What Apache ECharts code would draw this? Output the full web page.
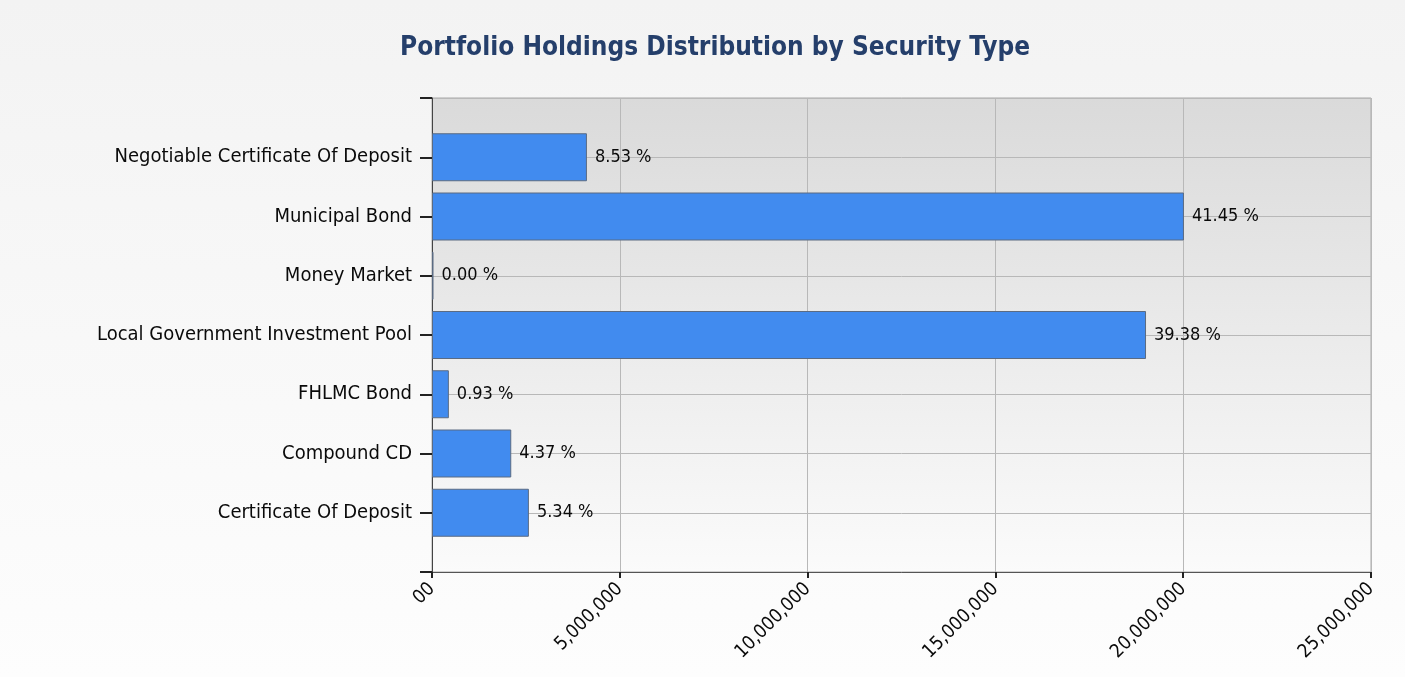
<!DOCTYPE html>
<html>
<head>
<meta charset="utf-8">
<script src="https://cdn.jsdelivr.net/npm/echarts@6/dist/echarts.min.js"></script>
<style>
html,body{margin:0;padding:0;background:#fff;}
#c{width:1405px;height:677px;}
</style>
</head>
<body>
<div id="c"></div>
<script>
// Data (bottom to top as drawn on the category axis)
const categories = ['Certificate Of Deposit','Compound CD','FHLMC Bond','Local Government Investment Pool','Money Market','Municipal Bond','Negotiable Certificate Of Deposit'];
const values = [2580000, 2110000, 449000, 19010000, 40000, 20020000, 4125000];
const percentLabels = ['5.34 %','4.37 %','0.93 %','39.38 %','0.00 %','41.45 %','8.53 %'];
const xTickValues = [0, 5000000, 10000000, 15000000, 20000000, 25000000];
const xTickLabels = ['00','5,000,000','10,000,000','15,000,000','20,000,000','25,000,000'];

// padded category axis: empty slot at each end, ticks on the points
const yCats = [''].concat(categories, ['']);
const barData = [null].concat(values.map((v,i)=>({value:v, pct:percentLabels[i]})), [null]);

const font = 'DejaVu Sans Condensed';
const chart = echarts.init(document.getElementById('c'));
chart.setOption({
  backgroundColor: new echarts.graphic.LinearGradient(0,0,0,1,[{offset:0,color:'#f3f3f3'},{offset:1,color:'#fdfdfd'}]),
  animation:false,
  title:{
    text:'Portfolio Holdings Distribution by Security Type',
    left:395, top:30,
    textStyle:{fontFamily:font, fontSize:26, fontWeight:'bold', color:'#253f6b'}
  },
  grid:{
    left:432, right:34, top:98, bottom:105,
    show:true,
    borderColor:'#a8a8a8', borderWidth:1,
    backgroundColor: new echarts.graphic.LinearGradient(0,0,0,1,[{offset:0,color:'#dadada'},{offset:1,color:'#fbfbfb'}])
  },
  xAxis:{
    type:'value', min:0, max:25000000, interval:5000000,
    axisLine:{show:true, lineStyle:{color:'#555', width:1}},
    axisTick:{show:true, length:6, lineStyle:{color:'#222', width:2}},
    splitLine:{show:true, lineStyle:{color:'#b8b8b8', width:1}},
    axisLabel:{
      rotate:45, margin:14,
      fontFamily:font, fontSize:19, color:'#0a0a0a',
      formatter:function(v){const i=xTickValues.indexOf(v); return i>=0?xTickLabels[i]:'';}
    }
  },
  yAxis:{
    type:'category', data:yCats, boundaryGap:false,
    axisLine:{show:true, lineStyle:{color:'#444', width:1}},
    axisTick:{show:true, length:12, lineStyle:{color:'#222', width:2}},
    splitLine:{show:true, lineStyle:{color:'#b8b8b8', width:1}},
    axisLabel:{
      margin:20, fontFamily:font, fontSize:20, color:'#0a0a0a',
      interval:0
    }
  },
  series:[{
    type:'bar',
    data:barData,
    barWidth:48,
    itemStyle:{color:'#418bef', borderColor:'#5b6b82', borderWidth:1},
    label:{
      show:true, position:'right', distance:8,
      fontFamily:font, fontSize:18, color:'#0a0a0a',
      formatter:function(p){return p.data && p.data.pct ? p.data.pct : '';}
    }
  }]
});
</script>
</body>
</html>
